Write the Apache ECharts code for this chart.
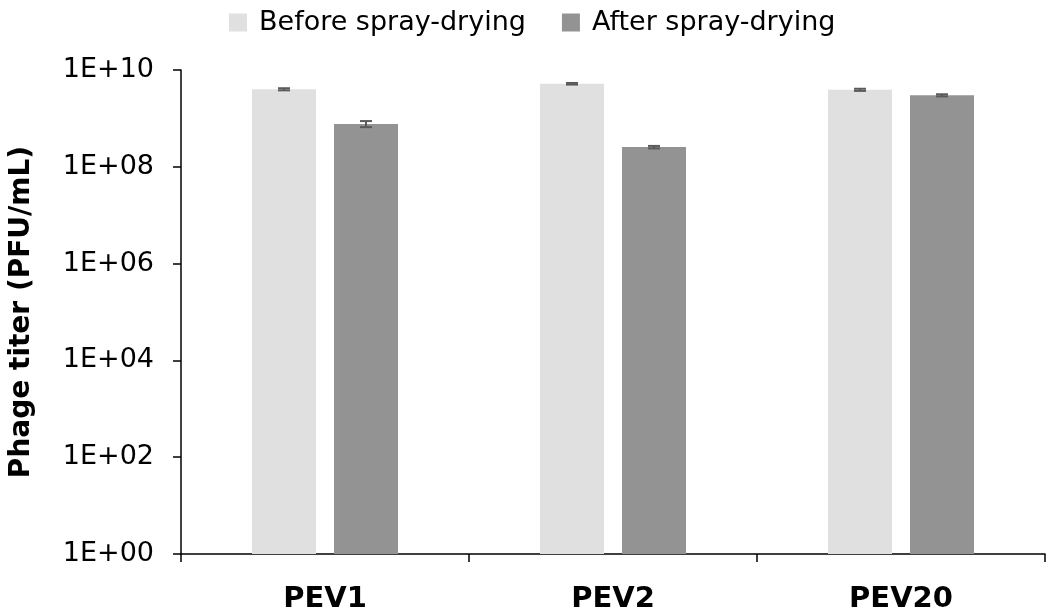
<!DOCTYPE html>
<html>
<head>
<meta charset="utf-8">
<script src="https://cdn.jsdelivr.net/npm/echarts@6/dist/echarts.min.js"></script>
<style>
html, body { margin: 0; padding: 0; background: #fff; }
#chart { width: 1050px; height: 616px; }
</style>
</head>
<body>
<div id="chart"></div>
<script>
const categories = ["PEV1", "PEV2", "PEV20"];
const beforeValues = [4.0e9, 5.2e9, 3.9e9];
const afterValues = [7.7e8, 2.55e8, 3.0e9];
const beforeErrors = [0.2e9, 0.2e9, 0.2e9];
const afterErrors = [1.1e8, 0.15e8, 0.15e9];

const BAR_W = 64;
const BAR_GAP = 18;
const OFFSET = (BAR_W + BAR_GAP) / 2;
const FONT = "DejaVu Sans, sans-serif";

const chart = echarts.init(document.getElementById("chart"));

// error bars drawn at the bar centre, shifted left/right of the category
function errorBar(shift) {
  return function (params, api) {
    const x = api.value(0);
    const lo = api.coord([x, api.value(1)]);
    const hi = api.coord([x, api.value(2)]);
    const cx = lo[0] + shift;
    const half = 6;
    const style = { stroke: "#5a5a5a", lineWidth: 2 };
    return {
      type: "group",
      children: [
        { type: "line", shape: { x1: cx, y1: lo[1], x2: cx, y2: hi[1] }, style },
        { type: "line", shape: { x1: cx - half, y1: lo[1], x2: cx + half, y2: lo[1] }, style },
        { type: "line", shape: { x1: cx - half, y1: hi[1], x2: cx + half, y2: hi[1] }, style },
      ],
    };
  };
}

const beforeErr = categories.map((c, i) => [i, beforeValues[i] - beforeErrors[i], beforeValues[i] + beforeErrors[i]]);
const afterErr = categories.map((c, i) => [i, afterValues[i] - afterErrors[i], afterValues[i] + afterErrors[i]]);

const option = {
  animation: false,
  textStyle: { fontFamily: FONT },
  legend: {
    data: ["Before spray-drying", "After spray-drying"],
    left: 224,
    top: 4,
    itemWidth: 18,
    itemHeight: 18,
    itemGap: 36,
    icon: "rect",
    textStyle: { fontSize: 27, color: "#000", fontFamily: FONT, padding: [0, 0, 0, 7] },
  },
  grid: { left: 181, right: 5, top: 70, bottom: 62, containLabel: false, outerBoundsMode: "none" },
  xAxis: {
    type: "category",
    data: categories,
    boundaryGap: true,
    axisLine: { lineStyle: { color: "#000", width: 1.5 } },
    axisTick: { show: true, length: 8, interval: 0, lineStyle: { color: "#000", width: 1.5 } },
    axisLabel: { fontSize: 29, fontWeight: "bold", color: "#000", margin: 31, fontFamily: FONT },
  },
  yAxis: {
    type: "log",
    logBase: 10,
    min: 1,
    max: 1e10,
    interval: 2,
    name: "Phage titer (PFU/mL)",
    nameLocation: "middle",
    nameGap: 145,
    nameRotate: 90,
    nameTextStyle: { fontSize: 28, fontWeight: "bold", color: "#000", fontFamily: FONT },
    axisLine: { show: true, lineStyle: { color: "#000", width: 1.5 } },
    axisTick: { show: true, length: 8, lineStyle: { color: "#000", width: 1.5 } },
    splitLine: { show: false },
    axisLabel: {
      fontSize: 27,
      color: "#000",
      margin: 27,
      padding: [6, 0, 0, 0],
      fontFamily: FONT,
      formatter: function (v) {
        const e = Math.round(Math.log10(v));
        return "1E+" + (e < 10 ? "0" + e : e);
      },
    },
  },
  series: [
    {
      name: "Before spray-drying",
      type: "bar",
      data: beforeValues,
      barWidth: BAR_W,
      barGap: (BAR_GAP / BAR_W * 100) + "%",
      itemStyle: { color: "#e0e0e0" },
    },
    {
      name: "After spray-drying",
      type: "bar",
      data: afterValues,
      barWidth: BAR_W,
      itemStyle: { color: "#939393" },
    },
    {
      type: "custom",
      renderItem: errorBar(-OFFSET),
      data: beforeErr,
      encode: { x: 0, y: [1, 2] },
      z: 10,
    },
    {
      type: "custom",
      renderItem: errorBar(OFFSET),
      data: afterErr,
      encode: { x: 0, y: [1, 2] },
      z: 10,
    },
  ],
};

chart.setOption(option);
</script>
</body>
</html>
